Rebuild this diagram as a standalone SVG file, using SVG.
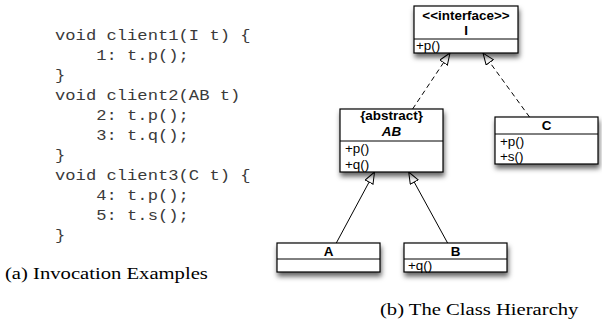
<svg xmlns="http://www.w3.org/2000/svg" width="602" height="323" viewBox="0 0 602 323">
  <defs>
    <filter id="shadow" x="-20%" y="-30%" width="140%" height="170%">
      <feDropShadow dx="1" dy="4" stdDeviation="2.5" flood-color="#000" flood-opacity="0.6"/>
    </filter>
    <marker id="hollow" markerUnits="userSpaceOnUse" markerWidth="14" markerHeight="12" refX="12" refY="5" orient="auto">
      <path d="M0.5,0.5 L12,5 L0.5,9.5 Z" fill="#fff" stroke="#000" stroke-width="1" stroke-dasharray="none"/>
    </marker>
    <style>
      .box { fill: #fff; stroke: #000; stroke-width: 1.2; }
      .div { stroke: #000; stroke-width: 1; }
      .title { font-family: "Liberation Sans", Arial, sans-serif; font-size: 12px; font-weight: bold; text-anchor: middle; fill: #000; }
      .ital { font-style: italic; }
      .op { font-family: "Liberation Sans", Arial, sans-serif; font-size: 12px; fill: #000; }
      .code { font-family: "Liberation Mono", "Courier New", monospace; font-size: 14px; fill: #3a3a3a; }
      .cap { font-family: "Liberation Serif", "Times New Roman", serif; font-size: 17.5px; fill: #000; }
      .inh { fill: none; stroke: #000; stroke-width: 1; marker-end: url(#hollow); }
      .real { stroke-dasharray: 5 3.5; }
    </style>
  </defs>

  <!-- (a) code listing -->
  <g id="code" transform="translate(55 0) scale(1.226 1)">
    <text class="code" x="0" y="40">void client1(I t) {</text>
    <text class="code" x="33.6" y="60">1: t.p();</text>
    <text class="code" x="0" y="80">}</text>
    <text class="code" x="0" y="100">void client2(AB t)</text>
    <text class="code" x="33.6" y="120">2: t.p();</text>
    <text class="code" x="33.6" y="140">3: t.q();</text>
    <text class="code" x="0" y="160">}</text>
    <text class="code" x="0" y="180">void client3(C t) {</text>
    <text class="code" x="33.6" y="200">4: t.p();</text>
    <text class="code" x="33.6" y="220">5: t.s();</text>
    <text class="code" x="0" y="240">}</text>
  </g>
  <text class="cap" transform="translate(5 279) scale(1.18 1)">(a) Invocation Examples</text>

  <!-- (b) class hierarchy: generalization / realization connectors -->
  <g id="connectors">
    <line class="inh real" x1="412.6" y1="109" x2="450" y2="53"/>
    <line class="inh real" x1="529.5" y1="117" x2="483" y2="53"/>
    <line class="inh" x1="336.3" y1="243" x2="374.5" y2="172"/>
    <line class="inh" x1="447.6" y1="243" x2="408.7" y2="172"/>
  </g>

  <g id="node-I">
    <rect class="box" x="414" y="6" width="104" height="47" filter="url(#shadow)"/>
    <line class="div" x1="414" y1="39" x2="518" y2="39"/>
    <text class="title" transform="translate(466 19.5) scale(1.12 1)">&lt;&lt;interface&gt;&gt;</text>
    <text class="title" transform="translate(466 34.5) scale(1.12 1)">I</text>
    <text class="op" transform="translate(416 49.5) scale(1.12 1)">+p()</text>
  </g>

  <g id="node-AB">
    <rect class="box" x="340" y="109" width="103" height="63" filter="url(#shadow)"/>
    <line class="div" x1="340" y1="141" x2="443" y2="141"/>
    <text class="title" transform="translate(391.5 120) scale(1.12 1)">{abstract}</text>
    <text class="title ital" transform="translate(391.5 136) scale(1.12 1)">AB</text>
    <text class="op" transform="translate(345 153) scale(1.12 1)">+p()</text>
    <text class="op" transform="translate(345 169) scale(1.12 1)">+q()</text>
  </g>

  <g id="node-C">
    <rect class="box" x="495" y="117" width="103" height="47" filter="url(#shadow)"/>
    <line class="div" x1="495" y1="134" x2="598" y2="134"/>
    <text class="title" transform="translate(546.5 130) scale(1.12 1)">C</text>
    <text class="op" transform="translate(500 146) scale(1.12 1)">+p()</text>
    <text class="op" transform="translate(500 161) scale(1.12 1)">+s()</text>
  </g>

  <g id="node-A">
    <rect class="box" x="277" y="243" width="103" height="29" filter="url(#shadow)"/>
    <line class="div" x1="277" y1="259" x2="380" y2="259"/>
    <text class="title" transform="translate(328.5 256) scale(1.12 1)">A</text>
  </g>

  <g id="node-B">
    <rect class="box" x="404" y="243" width="103" height="29" filter="url(#shadow)"/>
    <line class="div" x1="404" y1="259" x2="507" y2="259"/>
    <text class="title" transform="translate(455.5 256) scale(1.12 1)">B</text>
    <text class="op" transform="translate(408 270) scale(1.12 1)">+q()</text>
  </g>

  <text class="cap" transform="translate(380 315) scale(1.18 1)">(b) The Class Hierarchy</text>
</svg>
